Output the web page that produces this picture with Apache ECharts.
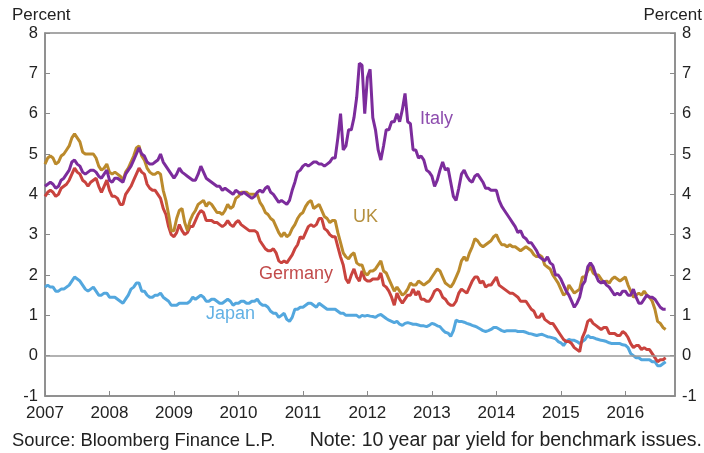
<!DOCTYPE html>
<html>
<head>
<meta charset="utf-8">
<script src="https://cdn.jsdelivr.net/npm/echarts@6/dist/echarts.min.js"></script>
<style>
html,body{margin:0;padding:0;background:#fff;}
#c{width:704px;height:453px;}
</style>
</head>
<body>
<div id="c"></div>
<script>
// Semi-monthly observations (1st and 15th of each month), Jan 2007 - Aug 2016
const startYear = 2007;
const stepsPerYear = 24;
const yTicks = [-1, 0, 1, 2, 3, 4, 5, 6, 7, 8];
const seriesNames = ['Japan', 'Germany', 'UK', 'Italy'];

const italy = [
  4.2,4.25,4.3,4.25,4.15,4.2,4.35,4.4,4.5,4.6,4.8,4.85,4.75,4.7,4.55,4.5,4.55,4.6,4.6,4.55,4.45,4.4,4.5,4.6,
  4.35,4.3,4.4,4.4,4.35,4.3,4.5,4.6,4.7,4.85,5.0,5.15,5.0,4.95,4.8,4.75,4.75,4.8,4.85,5.0,4.8,4.7,4.6,4.5,
  4.4,4.5,4.65,4.55,4.5,4.45,4.4,4.35,4.35,4.5,4.7,4.55,4.4,4.35,4.3,4.25,4.2,4.2,4.1,4.15,4.1,4.05,4.0,4.1,
  4.05,4.0,4.05,4.0,3.95,3.9,3.95,4.05,4.1,4.05,4.15,4.2,4.05,4.0,3.9,3.8,3.85,3.8,3.75,3.85,4.1,4.3,4.55,4.6,
  4.7,4.75,4.7,4.75,4.8,4.8,4.75,4.75,4.7,4.75,4.8,4.9,4.9,5.4,6.0,5.1,5.2,5.6,5.6,5.9,6.4,7.25,7.2,6.0,
  6.9,7.1,5.9,5.6,5.1,4.85,5.2,5.6,5.6,5.8,5.8,6.0,5.8,6.1,6.5,5.8,5.75,5.1,5.1,4.9,4.95,4.85,4.6,4.55,
  4.45,4.2,4.35,4.6,4.8,4.6,4.65,4.3,3.95,3.85,4.15,4.5,4.6,4.45,4.35,4.3,4.45,4.5,4.4,4.3,4.15,4.15,4.1,4.1,
  4.1,3.85,3.7,3.6,3.5,3.4,3.3,3.2,3.05,3.1,2.95,2.9,2.8,2.8,2.7,2.6,2.45,2.4,2.35,2.45,2.3,2.25,2.0,2.0,
  1.9,1.75,1.6,1.5,1.35,1.2,1.3,1.45,1.75,1.85,2.2,2.3,2.2,2.0,1.85,1.8,1.85,1.75,1.7,1.6,1.5,1.55,1.5,1.6,
  1.6,1.5,1.5,1.65,1.45,1.3,1.3,1.4,1.5,1.45,1.45,1.4,1.3,1.2,1.15,1.15
];
const uk = [
  4.75,4.9,4.95,4.9,4.75,4.8,4.95,5.0,5.1,5.2,5.4,5.5,5.4,5.3,5.05,5.0,5.0,5.0,5.0,4.9,4.7,4.6,4.65,4.75,
  4.55,4.5,4.55,4.5,4.45,4.35,4.55,4.65,4.8,4.95,5.15,5.2,4.95,4.85,4.65,4.55,4.5,4.5,4.55,4.5,4.1,3.85,3.5,3.1,
  3.1,3.4,3.6,3.65,3.3,3.1,3.35,3.5,3.6,3.75,3.8,3.85,3.7,3.8,3.75,3.65,3.55,3.55,3.5,3.6,3.75,3.65,3.7,3.9,
  3.95,4.05,4.05,4.05,4.0,4.0,4.0,4.0,3.8,3.7,3.55,3.5,3.4,3.35,3.2,3.05,2.95,3.05,2.95,3.0,3.15,3.25,3.4,3.5,
  3.55,3.7,3.8,3.85,3.65,3.7,3.75,3.6,3.45,3.4,3.3,3.35,3.35,3.05,2.8,2.55,2.45,2.4,2.5,2.55,2.3,2.25,2.25,2.05,
  2.0,2.1,2.1,2.15,2.25,2.35,2.1,2.05,1.9,1.75,1.6,1.7,1.6,1.5,1.55,1.65,1.8,1.75,1.75,1.85,1.8,1.75,1.8,1.85,
  1.95,2.05,2.15,2.1,1.95,1.8,1.75,1.7,1.8,1.95,2.1,2.35,2.45,2.35,2.55,2.7,2.9,2.85,2.75,2.7,2.75,2.8,2.85,2.95,
  3.0,2.85,2.75,2.75,2.7,2.75,2.7,2.7,2.65,2.6,2.65,2.7,2.65,2.6,2.5,2.45,2.5,2.45,2.25,2.2,2.15,2.0,1.9,1.8,
  1.65,1.5,1.55,1.75,1.65,1.55,1.6,1.65,1.95,1.95,2.1,2.2,2.05,2.0,2.0,1.9,1.8,1.85,1.8,1.9,1.95,1.9,1.85,1.9,
  1.95,1.75,1.6,1.45,1.5,1.55,1.5,1.6,1.5,1.45,1.35,1.15,0.85,0.8,0.7,0.65
];
const germany = [
  3.95,4.05,4.1,4.05,3.95,4.0,4.15,4.2,4.25,4.35,4.5,4.65,4.55,4.5,4.35,4.3,4.2,4.3,4.35,4.4,4.2,4.05,4.2,4.35,
  4.1,3.95,3.95,3.9,3.75,3.75,4.0,4.1,4.2,4.35,4.5,4.65,4.55,4.5,4.25,4.15,4.1,4.1,4.0,3.9,3.65,3.5,3.2,3.0,
  2.95,3.05,3.25,3.1,3.0,3.05,3.2,3.2,3.35,3.5,3.6,3.55,3.35,3.35,3.35,3.3,3.3,3.25,3.2,3.25,3.35,3.25,3.2,3.3,
  3.35,3.25,3.2,3.15,3.1,3.1,3.1,3.05,2.85,2.75,2.65,2.6,2.6,2.65,2.55,2.35,2.3,2.35,2.3,2.4,2.5,2.65,2.75,2.95,
  2.9,3.05,3.2,3.25,3.2,3.25,3.4,3.4,3.15,3.1,3.0,2.95,2.95,2.7,2.45,2.25,1.9,1.8,2.0,2.15,1.95,1.85,2.1,1.9,
  1.85,1.85,1.9,1.9,1.9,2.05,1.75,1.7,1.6,1.45,1.25,1.55,1.4,1.3,1.4,1.5,1.5,1.65,1.5,1.6,1.4,1.4,1.35,1.35,
  1.45,1.6,1.65,1.6,1.45,1.4,1.3,1.25,1.25,1.35,1.55,1.65,1.6,1.55,1.7,1.85,1.95,1.95,1.8,1.85,1.7,1.75,1.75,1.85,
  1.95,1.75,1.7,1.65,1.6,1.55,1.55,1.5,1.45,1.35,1.35,1.35,1.25,1.15,1.1,0.95,0.95,1.05,0.9,0.85,0.8,0.8,0.7,0.6,
  0.5,0.4,0.35,0.35,0.3,0.2,0.15,0.1,0.45,0.6,0.85,0.9,0.8,0.75,0.7,0.65,0.7,0.7,0.55,0.55,0.55,0.5,0.5,0.6,
  0.55,0.45,0.3,0.2,0.25,0.25,0.15,0.2,0.15,0.15,0.05,-0.05,-0.15,-0.1,-0.1,-0.05
];
const japan = [
  1.7,1.75,1.7,1.7,1.6,1.6,1.65,1.65,1.7,1.75,1.85,1.95,1.9,1.85,1.75,1.65,1.6,1.65,1.7,1.6,1.5,1.5,1.55,1.55,
  1.45,1.45,1.45,1.4,1.35,1.3,1.4,1.5,1.65,1.7,1.8,1.8,1.6,1.6,1.5,1.45,1.45,1.5,1.5,1.55,1.45,1.4,1.35,1.25,
  1.25,1.25,1.3,1.3,1.3,1.3,1.35,1.45,1.4,1.45,1.5,1.45,1.35,1.35,1.4,1.4,1.35,1.3,1.3,1.35,1.4,1.35,1.25,1.3,
  1.3,1.35,1.35,1.3,1.3,1.35,1.35,1.4,1.3,1.25,1.25,1.2,1.1,1.05,1.05,0.95,1.0,1.05,0.9,0.85,0.95,1.15,1.15,1.2,
  1.2,1.25,1.3,1.3,1.25,1.2,1.3,1.25,1.2,1.15,1.15,1.15,1.15,1.1,1.05,1.05,1.0,1.0,1.0,1.0,1.0,0.95,1.0,0.98,
  1.0,0.98,0.97,0.95,1.0,1.02,0.97,0.92,0.88,0.85,0.82,0.85,0.78,0.75,0.8,0.82,0.8,0.78,0.78,0.76,0.74,0.74,0.72,0.75,
  0.8,0.78,0.74,0.72,0.64,0.58,0.56,0.48,0.62,0.88,0.85,0.85,0.83,0.8,0.78,0.75,0.73,0.7,0.66,0.62,0.6,0.62,0.65,0.7,
  0.7,0.66,0.62,0.6,0.62,0.62,0.62,0.62,0.6,0.6,0.6,0.58,0.55,0.54,0.52,0.5,0.52,0.53,0.5,0.47,0.46,0.44,0.42,0.35,
  0.32,0.25,0.35,0.4,0.38,0.38,0.35,0.3,0.35,0.4,0.5,0.45,0.45,0.42,0.4,0.38,0.37,0.35,0.32,0.3,0.3,0.3,0.3,0.27,
  0.26,0.2,0.05,0.0,-0.05,-0.05,-0.1,-0.1,-0.1,-0.1,-0.15,-0.15,-0.25,-0.25,-0.2,-0.15
];

const colors = { Italy: '#7C2C9C', UK: '#BB8A2C', Germany: '#C9433E', Japan: '#53A7DE' };
const labelColors = { Italy: '#8D4DAE', UK: '#B5903F', Germany: '#C24B4B', Japan: '#63B1E4' };
const values = { Italy: italy, UK: uk, Germany: germany, Japan: japan };

function pairs(arr) {
  return arr.map((v, i) => [startYear + i / stepsPerYear, v]);
}

const FONT = '"Liberation Sans", Arial, sans-serif';
const axisGray = '#8a8a8a';

const chart = echarts.init(document.getElementById('c'), null, { renderer: 'canvas' });

const yAxisBase = {
  type: 'value', min: yTicks[0], max: yTicks[yTicks.length - 1], interval: 1,
  splitLine: { show: false },
  axisLine: { show: true, lineStyle: { color: axisGray, width: 1.5 } },
  axisTick: { show: true, inside: true, length: 5, lineStyle: { color: axisGray, width: 1 } },
  axisLabel: { color: '#222', fontSize: 16.5, fontFamily: FONT, margin: 7 }
};

const series = seriesNames.map(name => ({
  name: name,
  type: 'line',
  data: pairs(values[name]),
  showSymbol: false,
  symbol: 'none',
  lineStyle: { color: colors[name], width: 3 },
  itemStyle: { color: colors[name] },
  z: 3,
  animation: false
}));
series[0].markLine = {
  silent: true, symbol: 'none', animation: false,
  label: { show: false },
  lineStyle: { color: '#999', type: 'solid', width: 1.5 },
  data: [{ yAxis: 0 }]
};

chart.setOption({
  animation: false,
  backgroundColor: '#fff',
  grid: { left: 45, right: 29, top: 33, bottom: 57, show: true, borderColor: axisGray, borderWidth: 1.5 },
  xAxis: {
    type: 'value', min: 2007, max: 2016.77, interval: 1,
    splitLine: { show: false },
    axisLine: { show: true, onZero: false, lineStyle: { color: axisGray, width: 1.5 } },
    axisTick: { show: true, inside: true, length: 5, lineStyle: { color: axisGray, width: 1 } },
    axisLabel: {
      color: '#222', fontSize: 17, fontFamily: FONT, margin: 9,
      showMaxLabel: false,
      formatter: v => (Math.abs(v - Math.round(v)) < 1e-6 ? String(Math.round(v)) : '')
    }
  },
  yAxis: [
    Object.assign({}, yAxisBase, { position: 'left' }),
    Object.assign({}, yAxisBase, { position: 'right' })
  ],
  series: series,
  graphic: [
    { type: 'text', left: 12, top: 7, style: { text: 'Percent', font: '17px ' + FONT, fill: '#222' } },
    { type: 'text', right: 2, top: 7, style: { text: 'Percent', font: '17px ' + FONT, fill: '#222' } },
    { type: 'text', left: 12, top: 432, style: { text: 'Source: Bloomberg Finance L.P.', font: '18.4px ' + FONT, fill: '#222' } },
    { type: 'text', right: 2, top: 431, style: { text: 'Note: 10 year par yield for benchmark issues.', font: '19.5px ' + FONT, fill: '#222' } },
    { type: 'text', left: 420, top: 110, style: { text: 'Italy', font: '18px ' + FONT, fill: labelColors.Italy } },
    { type: 'text', left: 353, top: 208, style: { text: 'UK', font: '18px ' + FONT, fill: labelColors.UK } },
    { type: 'text', left: 259, top: 265, style: { text: 'Germany', font: '18px ' + FONT, fill: labelColors.Germany } },
    { type: 'text', left: 206, top: 305, style: { text: 'Japan', font: '18px ' + FONT, fill: labelColors.Japan } }
  ]
});
</script>
</body>
</html>
